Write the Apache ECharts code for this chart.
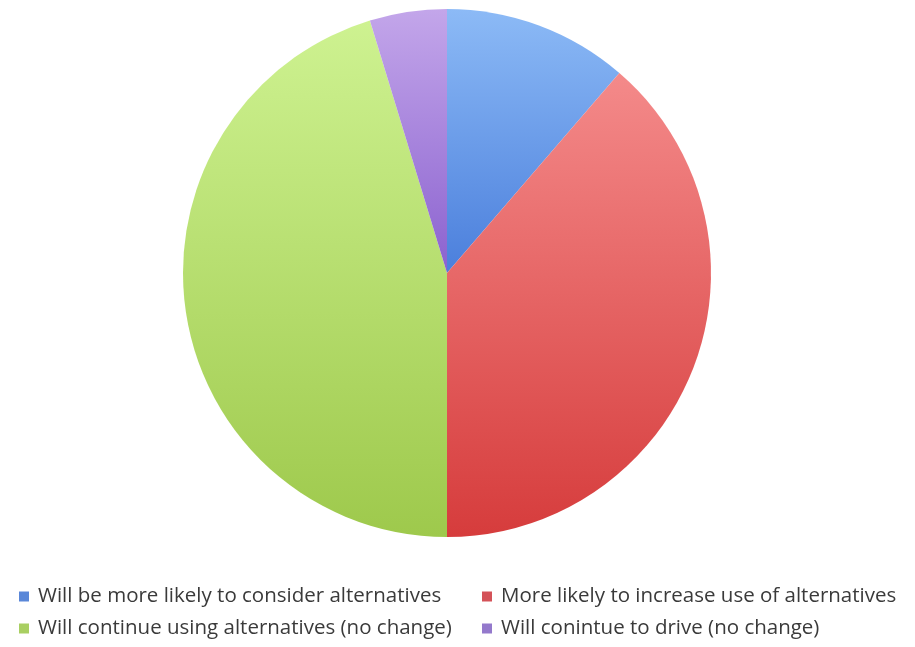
<!DOCTYPE html>
<html>
<head>
<meta charset="utf-8">
<script src="https://cdn.jsdelivr.net/npm/echarts@6/dist/echarts.min.js"></script>
<style>
  html, body { margin: 0; padding: 0; background: #fff; }
  #chart { width: 915px; height: 647px; }
</style>
</head>
<body>
<div id="chart"></div>
<script>
// categories and values
const categories = [
  'Will be more likely to consider alternatives',
  'More likely to increase use of alternatives',
  'Will continue using alternatives (no change)',
  'Will conintue to drive (no change)'
]
const values = [12, 41, 48, 5]

// top / bottom colour for each slice gradient
const topColors = ['#8cbaf6', '#f48a8a', '#cef291', '#c3a6ea']
const bottomColors = ['#4b7fdc', '#d63c3c', '#9ec94c', '#8b62cf']
const legendColors = ['#5a87d8', '#d45258', '#a9cf62', '#9479cc']

const chart = echarts.init(document.getElementById('chart'), null, { renderer: 'canvas' })

const grad = (i) => new echarts.graphic.LinearGradient(0, 0, 0, 1, [
  { offset: 0, color: topColors[i] },
  { offset: 1, color: bottomColors[i] }
])

const legendText = {
  fontFamily: 'Open Sans',
  fontSize: 20.5,
  color: '#3a3a3a',
  padding: [0, 0, 0, 4]
}

// two columns, two rows
const legendCol = (left, idx) => ({
  orient: 'vertical',
  left: left,
  top: 581,
  itemWidth: 10,
  itemHeight: 10,
  itemGap: 11,
  icon: 'rect',
  data: idx.map(i => ({ name: categories[i], itemStyle: { color: legendColors[i] } })),
  textStyle: legendText
})

chart.setOption({
  animation: false,
  backgroundColor: '#fff',
  legend: [legendCol(14, [0, 2]), legendCol(477, [1, 3])],
  series: [
    {
      type: 'pie',
      center: [447, 273],
      radius: 264,
      startAngle: 90,
      clockwise: true,
      label: { show: false },
      labelLine: { show: false },
      emphasis: { disabled: true },
      itemStyle: { borderWidth: 0 },
      data: categories.map((name, i) => ({
        name: name,
        value: values[i],
        itemStyle: { color: grad(i) }
      }))
    }
  ]
})
</script>
</body>
</html>
